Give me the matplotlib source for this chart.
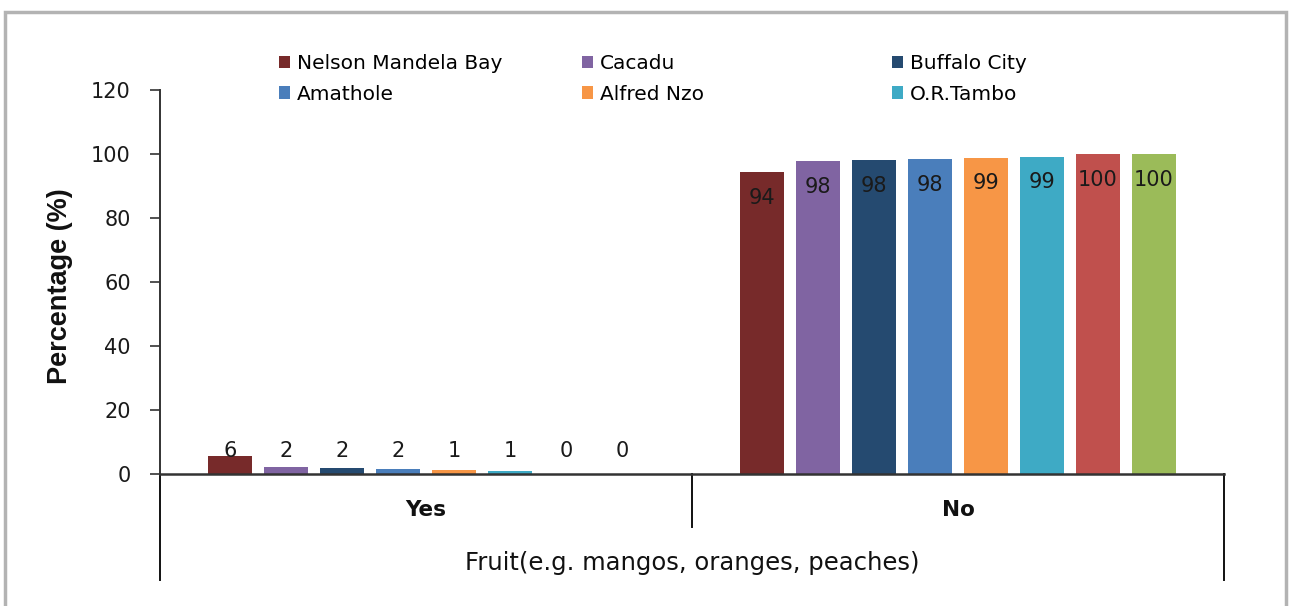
import matplotlib.pyplot as plt
from matplotlib.patches import Rectangle

categories = ['Yes', 'No']
districts = ['Nelson Mandela Bay', 'Cacadu', 'Buffalo City', 'Amathole',
             'Alfred Nzo', 'O.R.Tambo', 'Chris Hani', 'Joe Gqabi']
colors = ['#772a2a', '#8064a2', '#254a70', '#4a7ebb', '#f79646',
          '#3eaac5', '#c0504d', '#9bbb59']
yes_vals = [5.6, 2.3, 1.9, 1.6, 1.2, 0.9, 0.0, 0.0]
no_vals = [94.4, 97.7, 98.1, 98.4, 98.8, 99.1, 100.0, 100.0]
yes_labels = ['6', '2', '2', '2', '1', '1', '0', '0']
no_labels = ['94', '98', '98', '98', '99', '99', '100', '100']
# legend columns (the last two series are cut off in the original legend)
legend_cols = [[0, 3], [1, 4], [2, 5]]

plt.rcParams['font.family'] = ['DejaVu Sans']

fig = plt.figure(figsize=(12.9, 6.06), dpi=100)
ax = fig.add_axes([160 / 1290, 1 - 474 / 606, (1224 - 160) / 1290, 384 / 606])

# grey outer frame
fig.patches.append(Rectangle((5 / 1290, -0.05), 1281 / 1290, 1 - 12 / 606 + 0.05,
                             transform=fig.transFigure, fill=False,
                             edgecolor='#b3b3b3', linewidth=2.5))

step = 56 / 532
width = 44 / 532
handles = []
for i, name in enumerate(districts):
    xs = [0.5 + (i - 3.5) * step, 1.5 + (i - 3.5) * step]
    vals = [yes_vals[i], no_vals[i]]
    bars = ax.bar(xs, vals, width=width, color=colors[i], label=name)
    handles.append(bars)
    ax.text(xs[0], 7.2, yes_labels[i], ha='center', va='center',
            fontsize=15, color='#1a1a1a')
    ax.text(xs[1], no_vals[i] - 8, no_labels[i], ha='center', va='center',
            fontsize=15, color='#1a1a1a')

ax.set_xlim(0, 2)
ax.set_ylim(0, 120)
ax.set_yticks(range(0, 121, 20))
ax.tick_params(axis='y', labelsize=15, length=7, width=1.2, color='#333333',
               pad=14, labelcolor='#1a1a1a')
ax.set_xticks([])
for side in ['top', 'right']:
    ax.spines[side].set_visible(False)
ax.spines['left'].set_color('#333333')
ax.spines['left'].set_linewidth(1.4)
ax.spines['bottom'].set_color('#333333')
ax.spines['bottom'].set_linewidth(1.8)

# multi-level category axis lines
xt = ax.get_xaxis_transform()
for x, y0 in [(0, -0.276), (1, -0.138), (2, -0.276)]:
    ax.plot([x, x], [0, y0], transform=xt, color='#111111', linewidth=1.4,
            clip_on=False)
for j, cat in enumerate(categories):
    ax.text(j + 0.5, -0.095, cat, transform=xt, ha='center', va='center',
            fontsize=15.5, fontweight='bold', color='#111111')
ax.text(1.0, -0.233, 'Fruit(e.g. mangos, oranges, peaches)', transform=xt,
        ha='center', va='center', fontsize=17.5, color='#111111')

ax.set_ylabel('Percentage (%)', fontsize=19.5, fontweight='bold',
              family='Liberation Sans', color='#111111')
ax.yaxis.set_label_coords(-0.082, 0.49)

for k, (x0, col) in enumerate(zip([279, 582, 892], legend_cols)):
    leg = ax.legend(handles=[handles[c] for c in col], loc='upper left',
                    bbox_to_anchor=(x0 / 1290, 1 - 54 / 606),
                    bbox_transform=fig.transFigure, frameon=False,
                    fontsize=14.5, handlelength=0.55, handleheight=0.55,
                    handletextpad=0.35, labelspacing=0.58, borderpad=0,
                    borderaxespad=0)
    if k < 2:
        ax.add_artist(leg)

fig.savefig('out.png', dpi=100)
